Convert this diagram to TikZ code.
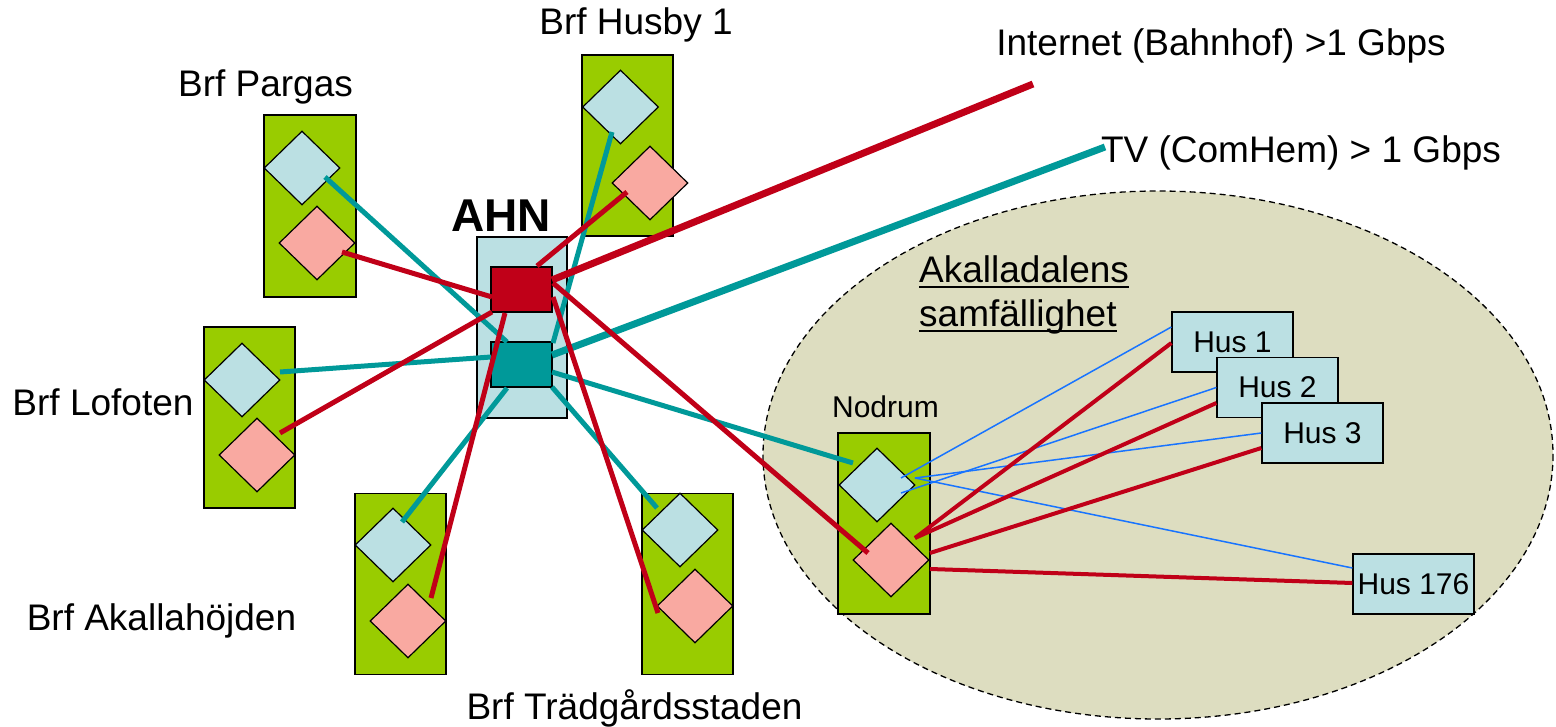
\documentclass[tikz,border=0pt]{standalone}
\usepackage{fontspec}
\setmainfont{Liberation Sans}
\usetikzlibrary{shapes.geometric,calc}
\definecolor{cGreen}{HTML}{99CC00}
\definecolor{cLBlue}{HTML}{BBE0E3}
\definecolor{cPink}{HTML}{F9A9A1}
\definecolor{cRed}{HTML}{C00018}
\definecolor{cTeal}{HTML}{009999}
\definecolor{cSand}{HTML}{DDDDC0}
\definecolor{cBlue}{HTML}{1874FF}
\newcommand\ulx[1]{\setbox0\hbox{#1}\rlap{\rule[-5.2pt]{\wd0}{2.5pt}}\box0}
\begin{document}
\begin{tikzpicture}[x=1pt,y=-1pt,
  grnbox/.style={draw=black,line width=1.3pt,fill=cGreen,inner sep=0pt,minimum width=91pt,minimum height=181pt},
  bdia/.style={shape=diamond,draw=black,line width=1.2pt,fill=cLBlue,inner sep=0pt,minimum width=76pt,minimum height=74pt},
  pdia/.style={shape=diamond,draw=black,line width=1.2pt,fill=cPink,inner sep=0pt,minimum width=76pt,minimum height=74pt},
  husbox/.style={draw=black,line width=1.3pt,fill=cLBlue,inner sep=0pt,minimum width=121pt,minimum height=60pt,font=\fontsize{30}{36}\selectfont},
  sq/.style={draw=black,line width=1.2pt,inner sep=0pt,minimum width=61pt,minimum height=45pt},
  lbl/.style={inner sep=0pt,anchor=base,font=\fontsize{37}{44}\selectfont},
  tealw/.style={draw=cTeal,line width=5pt},
  redw/.style={draw=cRed,line width=5pt},
  redm/.style={draw=cRed,line width=4pt},
  bluet/.style={draw=cBlue,line width=1.5pt}]
\useasboundingbox (0,0) rectangle (1556,727);
\fill[white] (0,0) rectangle (1556,727);

% community ellipse
\draw[fill=cSand,draw=black,line width=1.3pt,dash pattern=on 6pt off 4pt] (1158,455) ellipse [x radius=395, y radius=264];

% association boxes
\node[grnbox,minimum width=92pt,minimum height=182pt] (pargas) at (310,206) {};
\node[grnbox] (lofoten) at (249.5,417.5) {};
\node[grnbox] (akalla) at (400.5,584) {};
\node[grnbox] (tradg) at (687.5,584) {};
\node[grnbox] (husby) at (627.5,145.5) {};
\node[grnbox,minimum width=92pt] (nodrum) at (884,523.5) {};

% diamonds
\node[bdia] (parB) at (302,168) {};
\node[pdia] (parP) at (317,243) {};
\node[bdia] (lofB) at (242,380) {};
\node[pdia] (lofP) at (257,455) {};
\node[bdia] (akaB) at (393,545) {};
\node[pdia] (akaP) at (408,621) {};
\node[bdia] (traB) at (680,530) {};
\node[pdia] (traP) at (695,606) {};
\node[bdia] (husB) at (620.5,107) {};
\node[pdia] (husP) at (650,183) {};
\node[bdia] (nodB) at (877,485) {};
\node[pdia] (nodP) at (891,560) {};

% AHN
\node[draw=black,line width=1.3pt,fill=cLBlue,inner sep=0pt,minimum width=90pt,minimum height=181pt] (ahn) at (522,327.5) {};
\node[sq,fill=cRed] (rsq) at (521.5,289.5) {};
\node[sq,fill=cTeal] (tsq) at (521.5,364.5) {};

% houses
\node[husbox] (hus1) at (1232.5,342) {Hus 1};
\node[husbox] (hus2) at (1277.5,387.5) {Hus 2};
\node[husbox] (hus3) at (1322.5,433) {Hus 3};
\node[husbox] (hus176) at (1413.5,584) {Hus 176};

% external link endpoints
\coordinate (inet) at (1033,84);
\coordinate (tv) at (1105,147);

% teal links
\draw[tealw] ($(parB)+(23,9)$) -- ($(tsq)+(-14.5,-22.5)$);
\draw[tealw] ($(lofB)+(38,-8)$) -- ($(tsq)+(-30.5,-7.5)$);
\draw[tealw] ($(husB)+(-8.5,25)$) -- ($(tsq)+(31.5,-21.5)$);
\draw[tealw] ($(akaB)+(9,-23)$) -- ($(tsq)+(-14.5,23.5)$);
\draw[tealw] ($(traB)+(-23,-22)$) -- ($(tsq)+(30.5,22.5)$);
\draw[tealw] ($(nodB)+(-24,-22)$) -- ($(tsq)+(30.5,7.5)$);
\draw[draw=cTeal,line width=7pt] ($(tsq)+(30.5,-9.5)$) -- (tv);

% red links
\draw[redw] ($(parP)+(25,9)$) -- ($(rsq)+(-29.5,7.5)$);
\draw[redw] ($(lofP)+(23,-22)$) -- ($(rsq)+(-29.5,22.5)$);
\draw[redw] ($(husP)+(-23,9)$) -- ($(rsq)+(15.5,-23.5)$);
\draw[redw] ($(akaP)+(23,-23)$) -- ($(rsq)+(-16.5,23.5)$);
\draw[redw] ($(traP)+(-37,7)$) -- ($(rsq)+(31.5,7.5)$);
\draw[redw] ($(nodP)+(-23,-7)$) -- ($(rsq)+(31.5,-6.5)$);
\draw[draw=cRed,line width=7pt] ($(rsq)+(30.5,-9.5)$) -- (inet);

% community links
\draw[bluet] ($(nodB)+(24,-7)$) -- ($(hus1.west)+(0,-15)$);
\draw[bluet] ($(nodB)+(24,8)$) -- (hus2.west);
\draw[bluet] ($(nodB)+(38,-7)$) -- (hus3.west);
\draw[bluet] ($(nodB)+(38,-7)$) -- ($(hus176.west)+(0,-16)$);
\draw[redm] ($(nodP)+(24,-22)$) -- ($(hus1.west)+(0,1)$);
\draw[redm] ($(nodP)+(24,-22)$) -- ($(hus2.west)+(0,15.5)$);
\draw[redm] ($(nodP)+(39,-7)$) -- ($(hus3.west)+(0,15)$);
\draw[redm] ($(nodP)+(39,9)$) -- ($(hus176.west)+(0,-1)$);

% labels
\node[lbl] (lpargas) at (265.5,97) {Brf Pargas};
\node[lbl] (lhusby) at (636,35) {Brf Husby 1};
\node[lbl] (linet) at (1221,56) {Internet (Bahnhof) >1 Gbps};
\node[lbl] (ltv) at (1301,163) {TV (ComHem) > 1 Gbps};
\node[lbl,font=\fontsize{46}{52}\selectfont\bfseries] (lahn) at (501,232) {AHN};
\node[lbl] (llof) at (103,415) {Brf Lofoten};
\node[lbl] (laka) at (161.5,630) {Brf Akallahöjden};
\node[lbl] (ltra) at (634.5,719) {Brf Trädgårdsstaden};
\node[lbl,font=\fontsize{30}{36}\selectfont] (lnod) at (885.5,417) {Nodrum};
\node[lbl,anchor=base west] (lsam1) at (919,283) {\ulx{Akalladalens}};
\node[lbl,anchor=base west] (lsam2) at (919,327) {\ulx{samfällighet}};
\end{tikzpicture}
\end{document}
